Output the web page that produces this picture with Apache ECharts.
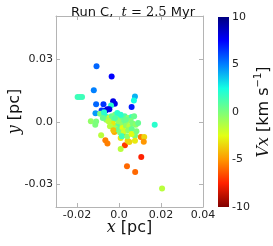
<!DOCTYPE html>
<html><head><meta charset="utf-8">
<script src="https://cdn.jsdelivr.net/npm/echarts@6/dist/echarts.min.js"></script>
<style>html,body{margin:0;padding:0;background:#fff}#c{width:273px;height:246px}</style>
</head><body><div id="c"></div>
<script>
// Data (x [pc], y [pc], Vx [km/s])
const xs = [-0.0107,-0.0035,-0.0120,-0.0197,-0.0187,-0.0176,0.0076,0.0071,-0.0109,-0.0074,-0.0028,-0.0020,-0.0038,0.0060,-0.0083,-0.0063,-0.0055,-0.0046,-0.0112,-0.0134,-0.0113,-0.0109,0.0170,-0.0085,-0.0065,-0.0055,-0.0022,0.0008,0.0028,0.0008,0.0017,0.0041,0.0049,0.0076,0.0076,0.0104,0.0120,0.0118,0.0106,0.0038,0.0077,0.0205,
-0.0090,-0.0071,-0.0058,-0.0046,-0.0035,-0.0019,-0.0008,-0.0024,-0.0003,0.0013,0.0027,0.0044,0.0060,0.0072,0.0055,0.0036,0.0020,0.0005,-0.0011,-0.0030,-0.0043,-0.0019,-0.0003,0.0017,0.0033,0.0049,0.0065,0.0080,0.0091,-0.0027,0.0005,0.0024,0.0044,0.0061,0.0014,0.0039,0.0060,0.0083,-0.0061,-0.0077,-0.0050,0.0008,0.0033,-0.0071,-0.0003,-0.0019];
const ys = [0.0266,0.0217,0.0152,0.0119,0.0119,0.0119,0.0122,0.0103,0.0085,0.0085,0.0099,0.0087,0.0079,0.0072,0.0055,0.0055,0.0061,0.0061,0.0042,0.0003,-0.0013,0.0002,-0.0013,-0.0064,-0.0088,-0.0103,-0.0048,-0.0077,-0.0112,-0.0130,-0.0064,-0.0090,-0.0096,-0.0066,-0.0090,-0.0072,-0.0072,-0.0095,-0.0168,-0.0212,-0.0239,-0.0319,
0.0039,0.0032,0.0024,0.0019,0.0027,0.0035,0.0043,0.0011,0.0014,0.0019,0.0027,0.0019,0.0024,0.0027,0.0006,0.0002,-0.0005,-0.0013,-0.0018,-0.0008,-0.0021,-0.0030,-0.0037,-0.0029,-0.0018,-0.0021,-0.0008,-0.0013,-0.0005,-0.0040,-0.0050,-0.0045,-0.0040,-0.0034,-0.0069,-0.0069,-0.0058,-0.0045,0.0011,0.0019,0.0003,0.0035,0.0011,0.0047,0.0003,0.0019];
const vx = [5.5,7.5,5,1.5,1.5,1.5,4,2.5,5.5,6.5,8,8,2,7,6.5,8,8,8,4.5,-0.5,0,0,2,-1.5,-5.5,-5.5,-4.5,-3,-7,-1.5,-5.5,-3.5,-3.5,0,-3,-5.5,-3.5,-5,-7.5,-6,-6,-1.5,
0,1,1.5,-2.5,0.5,0,2,0.5,0,0.5,1,-0.5,1.5,0.5,0,-1,0.5,-0.5,1,-3,-1.5,-1,0.5,-2.5,-0.5,-1.5,0,-0.5,0.5,-4,0,-2,-0.5,0.5,1.5,-0.5,-2.5,0,-0.5,0.5,-1.5,2,0.5,2,-0.5,1];
const xTicks = [-0.02, 0, 0.02, 0.04];
const yTicks = [-0.03, 0, 0.03];
const cbMin = -10, cbMax = 10, cbStep = 5;

const data = xs.map((x, i) => [x, ys[i], vx[i]]);
const jetR = ['#800000','#ff2100','#ff9700','#e2ff14','#7bff7b','#14ffe2','#0080ff','#0000ff','#000080'];
const fmt = v => (Math.abs(v) < 1e-12 ? '0.0' : v.toFixed(2));
const frame = '#b4b4b4';
const lbl = {color: '#222', fontSize: 11, fontFamily: 'DejaVu Sans'};
// colourbar gradient, top (max) to bottom (min)
const cbGrad = new echarts.graphic.LinearGradient(0, 0, 0, 1,
  jetR.slice().reverse().map((c, i, a) => ({offset: i / (a.length - 1), color: c})));

const chart = echarts.init(document.getElementById('c'), null, {renderer: 'canvas'});
chart.setOption({
  animation: false,
  title: {
    text: 'Run C,  {i|t}{s| = 2.5} Myr',
    left: 128, top: 1, textAlign: 'center',
    textStyle: {fontSize: 13, fontWeight: 'normal', color: '#111', fontFamily: 'DejaVu Sans',
      rich: {i: {fontFamily: 'DejaVu Serif', fontStyle: 'italic', fontSize: 13, color: '#111'},
             s: {fontFamily: 'DejaVu Serif', fontSize: 13, color: '#111'}}}
  },
  grid: [
    {left: 56, top: 16, width: 147, height: 191, outerBoundsMode: 'none'},
    {left: 218, top: 17, width: 11, height: 190, show: true, backgroundColor: cbGrad, borderWidth: 0, outerBoundsMode: 'none'}
  ],
  xAxis: [
    {type: 'value', gridIndex: 0, min: -0.03, max: 0.04, position: 'bottom',
     name: '{i|x} [pc]', nameLocation: 'middle', nameGap: 13, nameMoveOverlap: false,
     nameTextStyle: {fontSize: 16, color: '#111', fontFamily: 'DejaVu Sans',
       rich: {i: {fontFamily: 'DejaVu Serif', fontStyle: 'italic', fontSize: 16, color: '#111'}}},
     axisLine: {show: true, onZero: false, lineStyle: {color: frame}},
     axisTick: {show: true, inside: true, length: 4, customValues: xTicks, lineStyle: {color: frame}},
     axisLabel: {...lbl, margin: 3, customValues: xTicks, formatter: fmt},
     splitLine: {show: false}},
    {type: 'value', gridIndex: 0, min: -0.03, max: 0.04, position: 'top',
     axisLine: {show: true, onZero: false, lineStyle: {color: frame}},
     axisTick: {show: true, inside: true, length: 4, customValues: xTicks, lineStyle: {color: frame}},
     axisLabel: {show: false}, splitLine: {show: false}},
    {type: 'value', gridIndex: 1, min: 0, max: 1, show: false}
  ],
  yAxis: [
    {type: 'value', gridIndex: 0, min: -0.0407, max: 0.0507, position: 'left',
     name: '{i|y} [pc]', nameLocation: 'middle', nameGap: 33, nameRotate: 90, nameMoveOverlap: false,
     nameTextStyle: {fontSize: 16, color: '#111', fontFamily: 'DejaVu Sans',
       rich: {i: {fontFamily: 'DejaVu Serif', fontStyle: 'italic', fontSize: 16, color: '#111'}}},
     axisLine: {show: true, onZero: false, lineStyle: {color: frame}},
     axisTick: {show: true, inside: true, length: 4, customValues: yTicks, lineStyle: {color: frame}},
     axisLabel: {...lbl, margin: 3, customValues: yTicks, formatter: fmt},
     splitLine: {show: false}},
    {type: 'value', gridIndex: 0, min: -0.0407, max: 0.0507, position: 'right',
     axisLine: {show: true, onZero: false, lineStyle: {color: frame}},
     axisTick: {show: true, inside: true, length: 4, customValues: yTicks, lineStyle: {color: frame}},
     axisLabel: {show: false}, splitLine: {show: false}},
    {type: 'value', gridIndex: 1, min: cbMin, max: cbMax, interval: cbStep, position: 'right',
     name: '{i|Vx} [km s{s|−1}]', nameLocation: 'middle', nameGap: 23, nameRotate: 90,
     nameTextStyle: {fontSize: 16, color: '#111', fontFamily: 'DejaVu Sans', lineHeight: 20,
       rich: {i: {fontFamily: 'DejaVu Serif', fontStyle: 'italic', fontSize: 16, color: '#111', lineHeight: 20},
              s: {fontSize: 10, color: '#111', verticalAlign: 'top', lineHeight: 20, padding: [0, 0, 8, 0]}}},
     axisLine: {show: false},
     axisTick: {show: false},
     axisLabel: {...lbl, margin: 3, align: 'left', formatter: v => String(v)},
     splitLine: {show: false}}
  ],
  visualMap: {
    type: 'continuous', min: cbMin, max: cbMax, dimension: 2, seriesIndex: 0,
    inRange: {color: jetR}, show: false
  },
  series: [{
    type: 'scatter', xAxisIndex: 0, yAxisIndex: 0, data: data,
    symbolSize: 6, itemStyle: {opacity: 1}
  }]
});
</script></body></html>
